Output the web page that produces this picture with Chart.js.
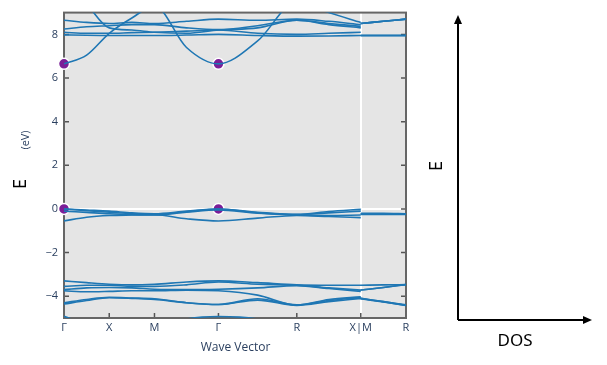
<!DOCTYPE html>
<html>
<head>
<meta charset="utf-8">
<script src="https://cdn.jsdelivr.net/npm/chart.js@4"></script>
<style>
  html, body { margin: 0; padding: 0; background: #fff; }
  canvas { display: block; }
</style>
</head>
<body>
<canvas id="bands" width="607" height="365"></canvas>
<script>
// k-path: Γ X M Γ R X | M R  (main path has 11 samples, the M-R piece 3)
const kPath = [0, 0.25, 0.5, 0.75, 1.0, 1.354, 1.707, 2.14, 2.573, 2.927, 3.28, 3.28, 3.53, 3.78];
const pathBreak = 11;
const kTickPos = [0, 0.5, 1.0, 1.707, 2.573, 3.28, 3.78];
const kTickLabels = ['Γ', 'X', 'M', 'Γ', 'R', 'X|M', 'R'];
const eTicks = [-4, -2, 0, 2, 4, 6, 8];

// conduction bands (eV)
const cb1 = [6.65, 7.05, 8.05, 8.75, 9.3, 7.4, 6.65, 7.7, 9.5, 9.0, 8.55, 8.5, 8.6, 8.7];
const cb2 = [8.65, 8.55, 8.5, 8.55, 8.5, 8.6, 8.7, 8.65, 8.7, 8.6, 8.45, 8.5, 8.6, 8.7];
const cb3 = [8.25, 8.35, 8.4, 8.45, 8.45, 8.3, 8.22, 8.4, 8.65, 8.5, 8.37, 7.95, 7.95, 7.95];
const cb4 = [8.1, 8.05, 8.05, 8.08, 8.1, 8.15, 8.2, 8.05, 8.0, 8.05, 8.1, 7.95, 7.95, 7.95];
const cb5 = [7.98, 7.96, 7.95, 7.95, 7.95, 7.97, 8.0, 7.95, 7.92, 7.93, 7.95, 7.95, 7.95, 7.95];
const cb6 = [10.5, 9.4, 8.3, 8.2, 8.1, 8.05, 8.2, 8.3, 8.65, 8.45, 8.3, 8.5, 8.6, 8.7];

// top valence bands
const vb1 = [0.0, -0.05, -0.1, -0.18, -0.22, -0.1, 0.0, -0.15, -0.25, -0.12, -0.02, -0.2, -0.2, -0.22];
const vb2 = [0.0, -0.08, -0.15, -0.22, -0.25, -0.13, 0.0, -0.18, -0.26, -0.18, -0.1, -0.22, -0.22, -0.23];
const vb3 = [-0.1, -0.16, -0.22, -0.26, -0.28, -0.15, -0.05, -0.2, -0.27, -0.3, -0.28, -0.23, -0.23, -0.24];
const vb4 = [-0.55, -0.38, -0.3, -0.28, -0.27, -0.45, -0.55, -0.42, -0.3, -0.35, -0.4, -0.25, -0.25, -0.25];

// lower valence bands
const lb1 = [-3.3, -3.38, -3.45, -3.48, -3.45, -3.35, -3.3, -3.38, -3.48, -3.5, -3.5, -3.5, -3.48, -3.47];
const lb2 = [-3.55, -3.5, -3.5, -3.55, -3.55, -3.48, -3.35, -3.45, -3.5, -3.62, -3.72, -3.72, -3.6, -3.47];
const lb3 = [-3.7, -3.62, -3.6, -3.62, -3.68, -3.7, -3.68, -3.62, -3.52, -3.65, -3.78, -3.72, -3.6, -3.47];
const lb4 = [-3.75, -3.8, -3.78, -3.75, -3.75, -3.72, -3.75, -3.95, -4.4, -4.15, -4.03, -4.1, -4.25, -4.4];
const lb5 = [-4.3, -4.15, -4.05, -4.08, -4.12, -4.3, -4.38, -4.12, -4.4, -4.2, -4.06, -4.1, -4.25, -4.42];
const lb6 = [-4.36, -4.2, -4.07, -4.1, -4.15, -4.3, -4.38, -4.18, -4.42, -4.25, -4.1, -4.12, -4.27, -4.42];
const lb7 = [-4.92, -5.3, -5.6, -5.6, -5.5, -5.05, -4.93, -5.05, -5.6, -5.6, -5.6, -5.6, -5.6, -5.6];

// band edges marked at Γ
const edgeK = [0, 0, 1.707, 1.707];
const edgeE = [6.65, 0, 6.65, 0];

const bands = [cb1, cb2, cb3, cb4, cb5, cb6, vb1, vb2, vb3, vb4, lb1, lb2, lb3, lb4, lb5, lb6, lb7];

function toPoints(energies) {
    const pts = [];
    energies.forEach((e, i) => {
        if (i === pathBreak) pts.push({ x: kPath[i], y: null });
        pts.push({ x: kPath[i], y: e });
    });
    return pts;
}

const bandDatasets = bands.map(b => ({
    data: toPoints(b),
    borderColor: '#1f77b4',
    borderWidth: 1.6,
    pointRadius: 0,
    cubicInterpolationMode: 'monotone',
    spanGaps: false
}));

const dotDataset = {
    type: 'scatter',
    data: edgeK.map((k, i) => ({ x: k, y: edgeE[i] })),
    backgroundColor: '#7b1e98',
    borderColor: '#ffffff',
    borderWidth: 1.5,
    pointRadius: 5.5,
    clip: false
};

const tickColor = '#2a3f5f';

const decorPlugin = {
    id: 'decor',
    beforeDraw(chart) {
        const { ctx, chartArea: a } = chart;
        ctx.save();
        ctx.fillStyle = '#e5e5e5';
        ctx.fillRect(a.left, a.top, a.right - a.left, a.bottom - a.top);
        ctx.restore();
    },
    beforeDatasetsDraw(chart) {
        const { ctx, chartArea: a, scales } = chart;
        ctx.save();
        ctx.strokeStyle = '#555';
        ctx.lineWidth = 1.5;
        eTicks.forEach(v => {
            const y = scales.y.getPixelForValue(v);
            ctx.beginPath();
            ctx.moveTo(a.left, y); ctx.lineTo(a.left + 5, y);
            ctx.moveTo(a.right - 5, y); ctx.lineTo(a.right, y);
            ctx.stroke();
        });
        kTickPos.forEach(v => {
            const x = scales.x.getPixelForValue(v);
            ctx.beginPath();
            ctx.moveTo(x, a.bottom); ctx.lineTo(x, a.bottom - 5);
            ctx.stroke();
        });
        ctx.strokeStyle = '#666';
        ctx.lineWidth = 2;
        ctx.strokeRect(a.left, a.top, a.right - a.left, a.bottom - a.top);
        ctx.restore();
    },
    afterDraw(chart) {
        const { ctx, chartArea: a } = chart;
        ctx.save();
        ctx.textAlign = 'center';
        ctx.textBaseline = 'middle';

        ctx.fillStyle = tickColor;
        ctx.font = '12px "Open Sans"';
        ctx.fillText('Wave Vector', (a.left + a.right) / 2 + 0.5, 348);

        ctx.save();
        ctx.translate(26, 140);
        ctx.rotate(-Math.PI / 2);
        ctx.font = '11px "Open Sans"';
        ctx.fillText('(eV)', 0, 0);
        ctx.restore();

        ctx.fillStyle = '#000';
        ctx.save();
        ctx.translate(21, 184);
        ctx.rotate(-Math.PI / 2);
        ctx.font = '18px "Noto Sans"';
        ctx.fillText('E', 0, 0);
        ctx.restore();

        // schematic DOS panel
        const ox = 458, oy = 320, topY = 15, endX = 592;
        ctx.strokeStyle = '#000';
        ctx.lineWidth = 2;
        ctx.beginPath();
        ctx.moveTo(ox, oy); ctx.lineTo(ox, topY + 6);
        ctx.moveTo(ox, oy); ctx.lineTo(endX - 6, oy);
        ctx.stroke();
        ctx.beginPath();
        ctx.moveTo(ox, topY); ctx.lineTo(ox - 4, topY + 9); ctx.lineTo(ox + 4, topY + 9);
        ctx.closePath(); ctx.fill();
        ctx.beginPath();
        ctx.moveTo(endX, oy); ctx.lineTo(endX - 9, oy - 4); ctx.lineTo(endX - 9, oy + 4);
        ctx.closePath(); ctx.fill();

        ctx.save();
        ctx.translate(437, 166);
        ctx.rotate(-Math.PI / 2);
        ctx.font = '18px "Noto Sans"';
        ctx.fillText('E', 0, 0);
        ctx.restore();

        ctx.font = '17px "Noto Sans"';
        ctx.fillText('DOS', 515, 341);
        ctx.restore();
    }
};

new Chart(document.getElementById('bands'), {
    type: 'line',
    data: { datasets: [...bandDatasets, dotDataset] },
    options: {
        responsive: false,
        animation: false,
        layout: { padding: { left: 0, right: 201, top: 10, bottom: 0 } },
        plugins: { legend: { display: false }, tooltip: { enabled: false } },
        scales: {
            x: {
                type: 'linear',
                min: 0,
                max: 3.78,
                afterBuildTicks: s => { s.ticks = kTickPos.map(v => ({ value: v })); },
                afterFit: s => { s.height = 47; },
                ticks: {
                    autoSkip: false,
                    maxRotation: 0,
                    padding: 3,
                    color: tickColor,
                    font: { family: 'Open Sans', size: 11 },
                    callback: (v, i) => kTickLabels[i]
                },
                grid: {
                    drawTicks: false,
                    lineWidth: 2,
                    color: c => (c.tick && c.tick.value === 3.28) ? '#ffffff' : 'rgba(0,0,0,0)'
                },
                border: { display: false }
            },
            y: {
                min: -5,
                max: 9,
                afterBuildTicks: s => { s.ticks = eTicks.map(v => ({ value: v })); },
                afterFit: s => { s.width = 64; },
                ticks: {
                    padding: 6,
                    color: tickColor,
                    font: { family: 'Open Sans', size: 11 },
                    callback: v => v < 0 ? '\u2212' + Math.abs(v) : String(v)
                },
                grid: {
                    drawTicks: false,
                    lineWidth: 2,
                    color: c => (c.tick && c.tick.value === 0) ? '#ffffff' : 'rgba(0,0,0,0)'
                },
                border: { display: false }
            }
        }
    },
    plugins: [decorPlugin]
});
</script>
</body>
</html>
